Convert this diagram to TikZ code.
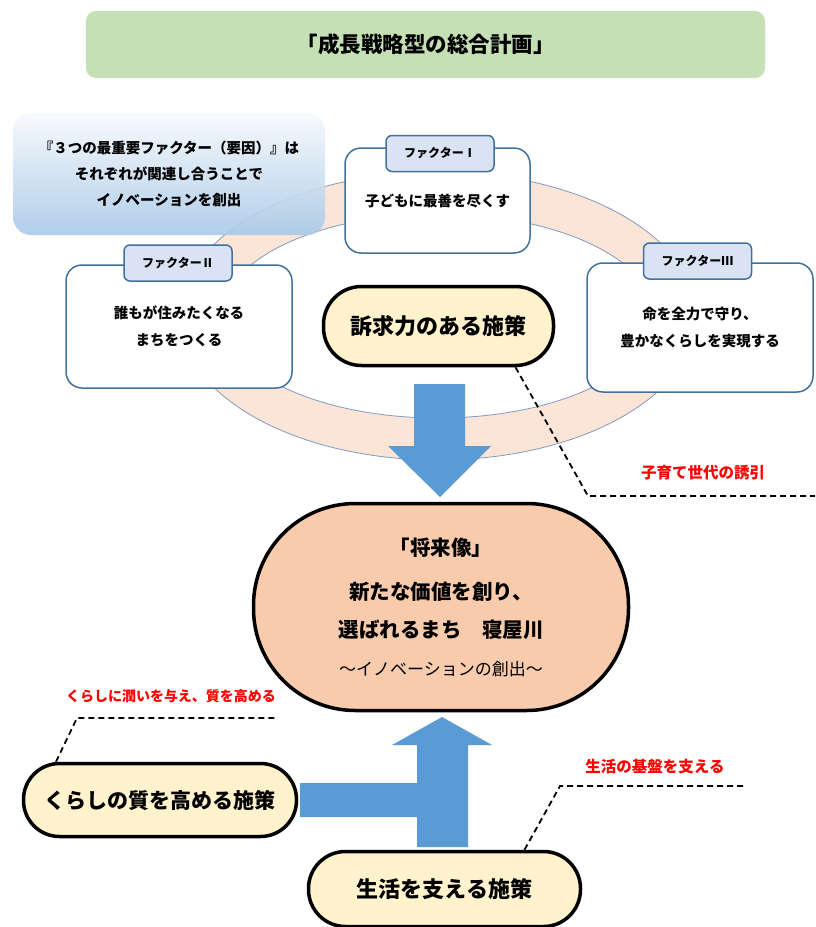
\documentclass[tikz,border=0pt]{standalone}
\usepackage{fontspec}
\setmainfont{Noto Sans CJK JP}
\usetikzlibrary{calc}
\pgfdeclarelayer{background}
\pgfsetlayers{background,main}
\definecolor{titlegreen}{HTML}{C5E0B4}
\definecolor{ringfill}{HTML}{FBE5D6}
\definecolor{ringline}{HTML}{7F9BBF}
\definecolor{boxline}{HTML}{41719C}
\definecolor{tabfill}{HTML}{DAE3F3}
\definecolor{policy}{HTML}{FFF2CC}
\definecolor{vision}{HTML}{F8CBAD}
\definecolor{arrowblue}{HTML}{5B9BD5}
\definecolor{calltop}{HTML}{F7FAFD}
\definecolor{callbot}{HTML}{A9C9E9}
\begin{document}
\begin{tikzpicture}[x=1pt,y=-1pt,
  factorbox/.style={draw=boxline, line width=1.5pt, fill=white, rounded corners=16pt, inner sep=0pt, align=center, font=\fontsize{14.5}{27}\selectfont\bfseries},
  tabbox/.style={draw=boxline, line width=1.5pt, fill=tabfill, rounded corners=6pt, minimum width=108pt, minimum height=36pt, inner sep=0pt, font=\fontsize{12}{14}\selectfont\bfseries},
  pill/.style={draw=black, line width=3.5pt, fill=policy, inner sep=0pt, align=center},
  note/.style={text=red, inner sep=0pt},
  leader/.style={draw=black, line width=1.8pt, dash pattern=on 6pt off 4pt},
  link/.style={draw=black, line width=1pt},
  blockarrow/.style={fill=arrowblue, draw=none},
]
\useasboundingbox (0,0) rectangle (815,927);
\fill[white] (0,0) rectangle (815,927);

% title
\node[fill=titlegreen, rounded corners=10pt, minimum width=679pt, minimum height=67pt, inner sep=0pt,
  font=\fontsize{21.5}{24}\selectfont\bfseries] (title) at (425.5,44.5) {「成長戦略型の総合計画」};

% ring
\fill[ringfill, even odd rule] (438,316) ellipse [x radius=258pt, y radius=144pt]
  (438,316) ellipse [x radius=216pt, y radius=102pt];
\draw[ringline, line width=0.8pt] (438,316) ellipse [x radius=258pt, y radius=144pt];
\draw[ringline, line width=0.8pt] (438,316) ellipse [x radius=216pt, y radius=102pt];

% callout
\node[rounded corners=18pt, top color=calltop, bottom color=callbot, fill opacity=0.9, text opacity=1,
  minimum width=312pt, minimum height=122pt, inner sep=0pt, align=center,
  font=\fontsize{14.5}{26}\selectfont\bfseries] (call) at (169,174)
  {『３つの最重要ファクター（要因）』は\\それぞれが関連し合うことで\\イノベーションを創出};

% factor boxes
\node[factorbox, minimum width=185pt, minimum height=105pt] (f1) at (437.5,200.5) {子どもに最善を尽くす};
\node[factorbox, minimum width=226pt, minimum height=123pt] (f2) at (179,326.5) {誰もが住みたくなる\\まちをつくる};
\node[factorbox, minimum width=226pt, minimum height=129pt] (f3) at (700,327.5) {命を全力で守り、\\豊かなくらしを実現する};
\node[tabbox] (t1) at (440,153.5) {ファクターⅠ};
\node[tabbox] (t2) at (178,263) {ファクターⅡ};
\node[tabbox] (t3) at (697.5,261) {ファクターⅢ};

% central policy
\node[pill, minimum width=230pt, minimum height=79pt, rounded corners=38pt,
  font=\fontsize{22}{24}\selectfont\bfseries] (sup) at (438.5,326) {訴求力のある施策};

\begin{pgfonlayer}{background}
\draw[link] (f1.south) -- (sup.north);
\draw[link] ([yshift=-7pt]f2.east) -- ([yshift=-7pt]sup.west);
\draw[link] ([yshift=-7pt]sup.east) -- ([yshift=-7pt]f3.west);
\end{pgfonlayer}

% down arrow
\fill[blockarrow] (414,384) -- (465,384) -- (465,446) -- (491,446) -- (440,497) -- (388,446) -- (414,446) -- cycle;

% vision
\node[pill, fill=vision, minimum width=375pt, minimum height=207pt, rounded corners=102pt,
  font=\fontsize{20.5}{38}\selectfont\bfseries] (vis) at (441,607)
  {「将来像」\\[6pt]新たな価値を創り、\\選ばれるまち　寝屋川\\{\fontsize{17}{38}\selectfont\mdseries ～イノベーションの創出～}};

% bottom policies
\node[pill, minimum width=273pt, minimum height=73pt, rounded corners=36pt,
  font=\fontsize{21}{24}\selectfont\bfseries] (kq) at (160,800) {くらしの質を高める施策};
\node[pill, minimum width=272pt, minimum height=75pt, rounded corners=37pt,
  font=\fontsize{22}{24}\selectfont\bfseries] (ls) at (444.5,889) {生活を支える施策};

% up arrow with side bar
\fill[blockarrow] (300,783) -- (417,783) -- (417,745) -- (392,745) -- (442,717) -- (492,745) -- (468,745)
  -- (468,847) -- (417,847) -- (417,817) -- (300,817) -- cycle;

% leaders and notes
\coordinate (c1) at (588,496);
\coordinate (c1e) at (815,496);
\draw[leader] ([xshift=77pt]sup.south) -- (c1) -- (c1e);
\node[note, font=\fontsize{15.5}{18}\selectfont\bfseries] (n1) at (703,473) {子育て世代の誘引};

\coordinate (c2) at (77,718);
\coordinate (c2e) at (278,718);
\draw[leader] ([xshift=-104pt]kq.north) -- (c2) -- (c2e);
\node[note, font=\fontsize{14}{18}\selectfont\bfseries] (n2) at (171,696) {くらしに潤いを与え、質を高める};

\coordinate (c3) at (560,786);
\coordinate (c3e) at (745,786);
\draw[leader] ([xshift=80pt]ls.north) -- (c3) -- (c3e);
\node[note, font=\fontsize{15.5}{18}\selectfont\bfseries] (n3) at (655,767) {生活の基盤を支える};
\end{tikzpicture}
\end{document}
